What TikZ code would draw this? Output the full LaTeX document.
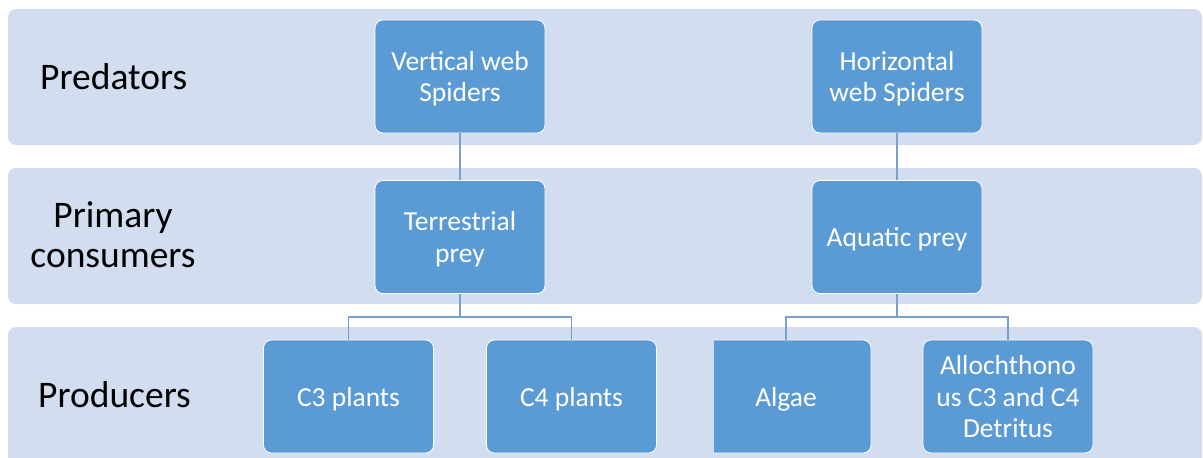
\documentclass[tikz,border=0pt]{standalone}
\usepackage{fontspec}
\setmainfont{Carlito}
\definecolor{bandfill}{HTML}{D2DEEF}
\definecolor{boxblue}{HTML}{5B9BD5}
\definecolor{linkblue}{HTML}{7A9FCD}
\tikzset{
  band/.style={fill=bandfill, rounded corners=8pt},
  levellabel/.style={inner sep=0pt, align=center, text=black,
    font=\fontsize{37.5}{40}\selectfont},
  box/.style={rectangle, rounded corners=8pt, fill=boxblue, draw=white,
    line width=0.8pt, minimum width=170pt, minimum height=113pt,
    inner sep=0pt, align=center, text=white, text depth=0pt,
    font=\fontsize{27.5}{31.5}\selectfont},
  link/.style={draw=linkblue, line width=1.6pt}
}
\begin{document}
\begin{tikzpicture}[x=1pt,y=-1pt]
\useasboundingbox (0,0) rectangle (1203,458);
\clip (0,0) rectangle (1203,458);

% trophic level bands
\fill[band] (8,9) rectangle (1202,145);
\fill[band] (8,168) rectangle (1202,304);
\fill[band] (8,327) rectangle (1202,480);

% level names
\node[levellabel, anchor=west] (lpred) at (40,77) {Predators};
\node[levellabel] (lcons) at (113,235) {Primary\\consumers};
\node[levellabel, anchor=west] (lprod) at (38,395) {Producers};

% predators
\node[box] (vws) at (460,76.5) {Vertical web\\Spiders};
\node[box] (hws) at (897,76.5) {Horizontal\\web Spiders};

% primary consumers
\node[box] (tp) at (460,237) {Terrestrial\\prey};
\node[box] (aq) at (897,237) {Aquatic prey};

% producers
\node[box] (c3) at (348.5,396.5) {C3 plants};
\node[box] (c4) at (571.5,396.5) {C4 plants};
\begin{scope}
  \clip (714,300) rectangle (900,470);
  \node[box] (algae) at (786,396.5) {Algae};
\end{scope}
\node[box, text depth=-8pt] (allo) at (1008,396.5) {Allochthono\\us C3 and C4\\Detritus};

% links
\draw[link] (vws) -- (tp);
\draw[link] (hws) -- (aq);
\draw[link] (tp.south) -- ++(0,23) coordinate (tpj) -| (c3.north);
\draw[link] (tpj) -| (c4.north);
\draw[link] (aq.south) -- ++(0,23) coordinate (aqj) -| (algae.north);
\draw[link] (aqj) -| (allo.north);
\end{tikzpicture}
\end{document}
